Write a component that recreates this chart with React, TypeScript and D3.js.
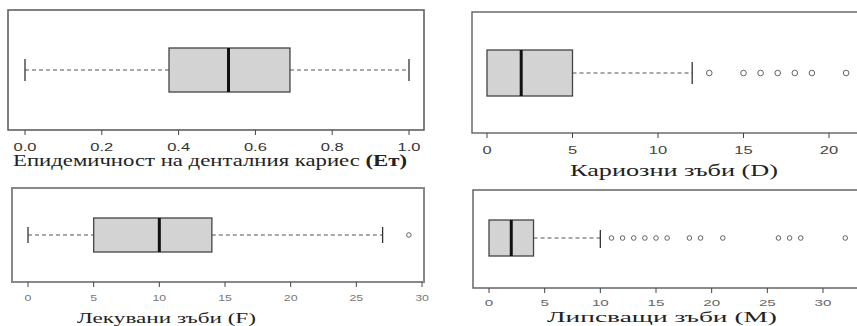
import React from "react";
import * as d3 from "d3";

// ---- data ----
const panelLabels = [
  "Епидемичност на денталния кариес ",
  "Кариозни зъби (D)",
  "Лекувани зъби (F)",
  "Липсващи зъби (M)",
];
const q1Values = [0.375, 0, 5, 0];
const medianValues = [0.53, 2, 10, 2];
const q3Values = [0.69, 5, 14, 4];
const whiskerLow = [0, 0, 0, 0];
const whiskerHigh = [1, 12, 27, 10];
const outliersEt: number[] = [];
const outliersD = [13, 15, 16, 17, 18, 19, 21];
const outliersF = [29];
const outliersM = [11, 12, 13, 14, 15, 16, 18, 19, 21, 26, 27, 28, 32];
const ticksEt = [0, 0.2, 0.4, 0.6, 0.8, 1.0];
const ticksD = [0, 5, 10, 15, 20];
const ticksF = [0, 5, 10, 15, 20, 25, 30];
const ticksM = [0, 5, 10, 15, 20, 25, 30];

const outlierSets = [outliersEt, outliersD, outliersF, outliersM];
const tickSets = [ticksEt, ticksD, ticksF, ticksM];

// ---- layout (positions/styles) ----
type Layout = {
  fx0: number; fx1: number; fy0: number; fy1: number;
  d0: number; d1: number; r0: number; r1: number;
  by0: number; by1: number; cy0: number; cy1: number;
  tickY: number; tickFont: number; tickSx: number; tickColor: string;
  labelY: number; labelX0: number; labelX1: number; labelFont: number;
  frameColor: string; frameW: number; outR: number; fmt: (v: number) => string;
};
const layouts: Layout[] = [
  { fx0: 8, fx1: 424, fy0: 10, fy1: 130, d0: 0, d1: 1, r0: 25, r1: 409,
    by0: 48, by1: 92, cy0: 59, cy1: 81, tickY: 150.5, tickFont: 11, tickSx: 1.5, tickColor: "#333",
    labelY: 166, labelX0: 13, labelX1: 407, labelFont: 16, frameColor: "#555", frameW: 1.5, outR: 3,
    fmt: d3.format(".1f") },
  { fx0: 472, fx1: 860, fy0: 12, fy1: 133, d0: 0, d1: 20, r0: 487, r1: 829,
    by0: 50, by1: 96, cy0: 62, cy1: 84, tickY: 154, tickFont: 11, tickSx: 1.5, tickColor: "#444",
    labelY: 176, labelX0: 570, labelX1: 778, labelFont: 16, frameColor: "#555", frameW: 1.3, outR: 2.8,
    fmt: d3.format("d") },
  { fx0: 12, fx1: 424, fy0: 188, fy1: 282, d0: 0, d1: 30, r0: 28, r1: 422,
    by0: 218, by1: 252, cy0: 227, cy1: 243, tickY: 300.5, tickFont: 9.5, tickSx: 1.3, tickColor: "#777",
    labelY: 323, labelX0: 77, labelX1: 256, labelFont: 15, frameColor: "#888", frameW: 2, outR: 2.3,
    fmt: d3.format("d") },
  { fx0: 473, fx1: 860, fy0: 190, fy1: 288, d0: 0, d1: 30, r0: 489, r1: 823,
    by0: 220, by1: 256, cy0: 230, cy1: 248, tickY: 305.5, tickFont: 9.5, tickSx: 1.6, tickColor: "#666",
    labelY: 322, labelX0: 547, labelX1: 777, labelFont: 15, frameColor: "#666", frameW: 1.5, outR: 2.3,
    fmt: d3.format("d") },
];

function Panel({ i }: { i: number }) {
  const L = layouts[i];
  const x = d3.scaleLinear().domain([L.d0, L.d1]).range([L.r0, L.r1]);
  const cy = (L.by0 + L.by1) / 2;
  const q1 = x(q1Values[i]);
  const q3 = x(q3Values[i]);
  const med = x(medianValues[i]);
  const wl = x(whiskerLow[i]);
  const wh = x(whiskerHigh[i]);
  return (
    <g>
      <rect x={L.fx0} y={L.fy0} width={L.fx1 - L.fx0} height={L.fy1 - L.fy0}
        fill="#fff" stroke={L.frameColor} strokeWidth={L.frameW} />
      {wl < q1 && (
        <line x1={wl} x2={q1} y1={cy} y2={cy} stroke="#555" strokeWidth={1.2} strokeDasharray="4,3" />
      )}
      <line x1={q3} x2={wh} y1={cy} y2={cy} stroke="#555" strokeWidth={1.2} strokeDasharray="4,3" />
      {wl < q1 && (
        <line x1={wl} x2={wl} y1={L.cy0} y2={L.cy1} stroke="#333" strokeWidth={1.3} />
      )}
      <line x1={wh} x2={wh} y1={L.cy0} y2={L.cy1} stroke="#333" strokeWidth={1.3} />
      <rect x={q1} y={L.by0} width={q3 - q1} height={L.by1 - L.by0}
        fill="#d3d3d3" stroke="#444" strokeWidth={1.3} />
      <line x1={med} x2={med} y1={L.by0} y2={L.by1} stroke="#111" strokeWidth={3} />
      {outlierSets[i].map((v, k) => (
        <circle key={k} cx={x(v)} cy={cy} r={L.outR} fill="none" stroke="#555" strokeWidth={0.9} />
      ))}
      {tickSets[i].map((t, k) => (
        <g key={k}>
          <line x1={x(t)} x2={x(t)} y1={L.fy1} y2={L.fy1 + 5} stroke="#444" strokeWidth={1} />
          <text
            transform={`translate(${x(t)},${L.tickY}) scale(${L.tickSx},1)`}
            textAnchor="middle"
            fontFamily="Liberation Sans, Arial, sans-serif"
            fontSize={L.tickFont}
            fill={L.tickColor}
          >
            {L.fmt(t)}
          </text>
        </g>
      ))}
      <text
        x={L.labelX0}
        y={L.labelY}
        textLength={L.labelX1 - L.labelX0}
        lengthAdjust="spacingAndGlyphs"
        fontFamily="Liberation Serif, Times New Roman, serif"
        fontSize={L.labelFont}
        fill="#222"
      >
        {panelLabels[i]}
        {i === 0 && <tspan fontWeight="bold">(Ет)</tspan>}
      </text>
    </g>
  );
}

export default function App() {
  return (
    <svg width={857} height={326} style={{ position: "absolute", left: 0, top: 0, background: "#fff" }}>
      <rect width={857} height={326} fill="#fff" />
      {[0, 1, 2, 3].map((i) => (
        <Panel key={i} i={i} />
      ))}
    </svg>
  );
}
